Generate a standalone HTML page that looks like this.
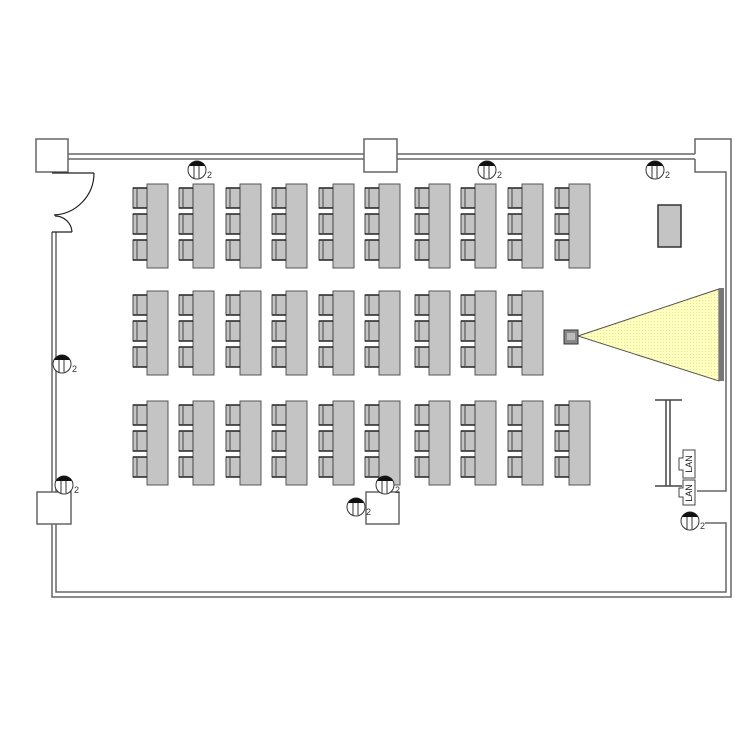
<!DOCTYPE html>
<html><head><meta charset="utf-8"><style>html,body{margin:0;padding:0;background:#fff}svg{display:block}</style></head>
<body>
<svg width="750" height="750" viewBox="0 0 750 750" xmlns="http://www.w3.org/2000/svg" font-family="Liberation Sans, sans-serif">
<defs>
<pattern id="dots" width="3" height="3" patternUnits="userSpaceOnUse"><rect width="3" height="3" fill="#ffffc0"/><rect width="1" height="1" fill="#e8e890"/></pattern>
<g id="grp">
  <rect x="14" y="0" width="21" height="84" fill="#c4c4c4" stroke="#555" stroke-width="1"/>
  <g id="ch"><path d="M0,4 h14 v20 h-14 z" fill="#c4c4c4" stroke="#444"/><line x1="4" y1="5" x2="4" y2="23" stroke="#444"/><line x1="0" y1="4" x2="14" y2="4" stroke="#222" stroke-width="1.5"/><line x1="0" y1="24" x2="14" y2="24" stroke="#222" stroke-width="1.5"/></g>
  <use href="#ch" y="26"/><use href="#ch" y="52"/>
</g>
<g id="lt">
  <circle r="9" fill="#fff" stroke="#333"/>
  <path d="M-8,-4 A9,9 0 0 1 8,-4 Z" fill="#111"/>
  <line x1="-3" y1="-4" x2="-3" y2="8" stroke="#333"/><line x1="2" y1="-4" x2="2" y2="8" stroke="#333"/>
  <text x="10" y="8" font-size="9" fill="#333">2</text>
</g>
</defs>
<g fill="none" stroke="#666" stroke-width="1.5">
  <!-- top wall -->
  <line x1="68" y1="154" x2="364" y2="154"/><line x1="68" y1="159" x2="364" y2="159"/>
  <line x1="397" y1="154" x2="695" y2="154"/><line x1="397" y1="159" x2="695" y2="159"/>
  <path d="M36,139 H68 V172 H36 Z"/>
  <path d="M364,139 H397 V172 H364 Z"/>
  <path d="M695,154 V139 H731 V597 H52 V524"/>
  <path d="M695,159 V172 H726 V491 H697"/>
  <path d="M705,523 H726 V592 H56 V524"/>
  <!-- left wall -->
  <line x1="52" y1="232" x2="52" y2="492"/><line x1="56" y1="232" x2="56" y2="492"/>
  <path d="M37,492 H71 V524 H37 Z"/>
  <path d="M366,492 H399 V524 H366 Z"/>
</g>
<!-- door -->
<g fill="none" stroke="#222" stroke-width="1.2">
  <line x1="52" y1="173" x2="94" y2="173"/>
  <path d="M94,173 A42,42 0 0 1 54,215"/>
  <line x1="52" y1="232" x2="72" y2="232"/>
  <path d="M72,232 A17,17 0 0 0 55,216"/>
</g>
<!-- desks -->
<g>
  <use href="#grp" x="133" y="184"/><use href="#grp" x="179" y="184"/><use href="#grp" x="226" y="184"/><use href="#grp" x="272" y="184"/><use href="#grp" x="319" y="184"/><use href="#grp" x="365" y="184"/><use href="#grp" x="415" y="184"/><use href="#grp" x="461" y="184"/><use href="#grp" x="508" y="184"/><use href="#grp" x="555" y="184"/>
  <use href="#grp" x="133" y="291"/><use href="#grp" x="179" y="291"/><use href="#grp" x="226" y="291"/><use href="#grp" x="272" y="291"/><use href="#grp" x="319" y="291"/><use href="#grp" x="365" y="291"/><use href="#grp" x="415" y="291"/><use href="#grp" x="461" y="291"/><use href="#grp" x="508" y="291"/>
  <use href="#grp" x="133" y="401"/><use href="#grp" x="179" y="401"/><use href="#grp" x="226" y="401"/><use href="#grp" x="272" y="401"/><use href="#grp" x="319" y="401"/><use href="#grp" x="365" y="401"/><use href="#grp" x="415" y="401"/><use href="#grp" x="461" y="401"/><use href="#grp" x="508" y="401"/><use href="#grp" x="555" y="401"/>
</g>
<!-- podium -->
<rect x="658" y="205" width="23" height="42" fill="#c4c4c4" stroke="#333" stroke-width="1.5"/>
<!-- projector -->
<polygon points="578,336 719,289 719,381" fill="url(#dots)" stroke="#555"/>
<rect x="719" y="288" width="5" height="93" fill="#777"/>
<rect x="564" y="330" width="14" height="14" fill="#888" stroke="#333"/>
<rect x="567" y="333" width="8" height="7" fill="#bbb"/>
<!-- whiteboard -->
<g stroke="#444" stroke-width="1.5" fill="none">
  <line x1="655" y1="400" x2="682" y2="400"/><line x1="655" y1="486" x2="682" y2="486"/>
  <line x1="666" y1="400" x2="666" y2="486"/><line x1="670" y1="400" x2="670" y2="486"/>
</g>
<g stroke="#444" fill="#fff">
  <path d="M683,450 H695 V478 H683 V470 H679 V458 H683 Z"/>
  <path d="M683,480 H695 V505 H683 V497 H679 V488 H683 Z"/>
</g>
<text transform="translate(692,464) rotate(-90)" font-size="9" text-anchor="middle" fill="#222">LAN</text>
<text transform="translate(692,493) rotate(-90)" font-size="9" text-anchor="middle" fill="#222">LAN</text>
<!-- lights -->
<use href="#lt" x="197" y="170"/><use href="#lt" x="487" y="170"/><use href="#lt" x="655" y="170"/>
<use href="#lt" x="62" y="364"/><use href="#lt" x="64" y="485"/><use href="#lt" x="385" y="485"/>
<use href="#lt" x="356" y="507"/><use href="#lt" x="690" y="521"/>
</svg>
</body></html>
